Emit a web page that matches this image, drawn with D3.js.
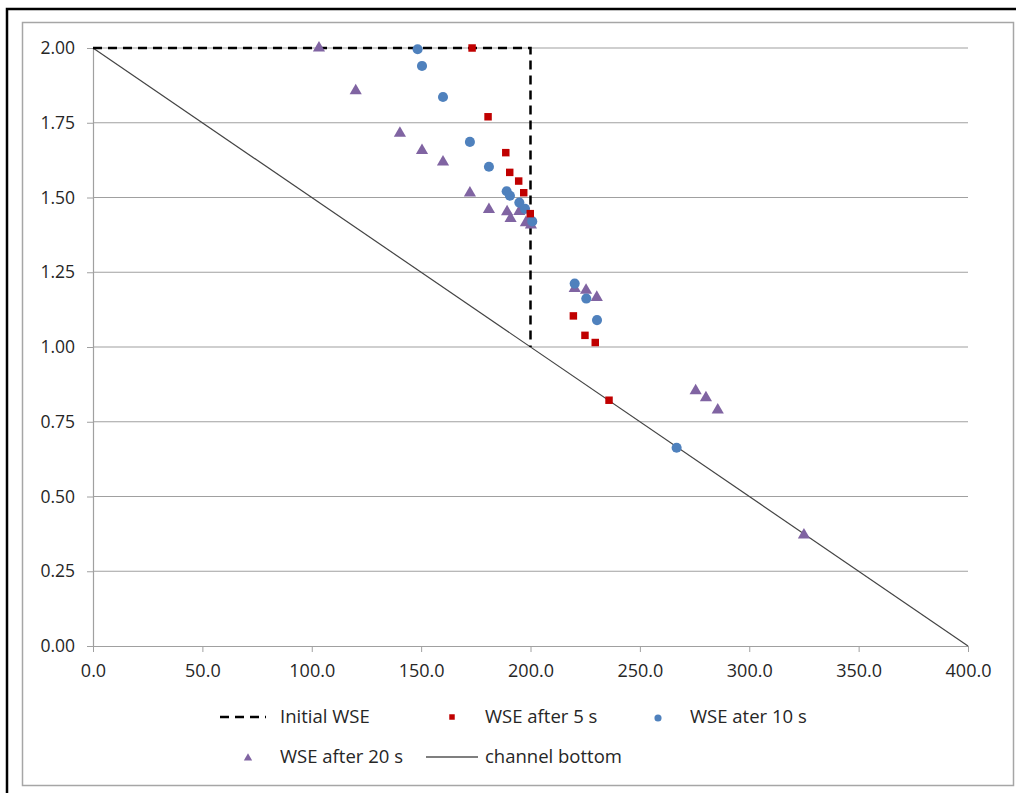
<!DOCTYPE html>
<html>
<head>
<meta charset="utf-8">
<script src="https://cdn.jsdelivr.net/npm/d3@7"></script>
<style>
  body { margin: 0; background: #fff; }
  svg text { font-family: "Open Sans", "Noto Sans", sans-serif; fill: #262626; }
</style>
</head>
<body>
<svg id="chart" width="1016" height="793"></svg>
<script>
"use strict";

//data ************************************************************
var xTicks = [0, 50, 100, 150, 200, 250, 300, 350, 400];
var yTicks = [0, 0.25, 0.5, 0.75, 1.0, 1.25, 1.5, 1.75, 2.0];

var initialWSE = [[0, 2.0], [200, 2.0], [200, 1.0]];
var channelBottom = [[0, 2.0], [400, 0.0]];

var wse5 = [
  [173.3, 2.00], [180.6, 1.77], [188.7, 1.65], [190.5, 1.584], [194.6, 1.555],
  [196.9, 1.516], [199.9, 1.446], [219.6, 1.104], [224.9, 1.039], [229.6, 1.015],
  [235.9, 0.822]
];
var wse10 = [
  [148.4, 1.996], [150.4, 1.94], [160.0, 1.836], [172.3, 1.686], [181.0, 1.603],
  [189.1, 1.521], [190.6, 1.506], [194.9, 1.483], [197.5, 1.462], [200.8, 1.42],
  [220.2, 1.212], [225.5, 1.162], [230.4, 1.09], [266.8, 0.663]
];
var wse20 = [
  [103.3, 2.00], [120.1, 1.857], [140.3, 1.715], [150.4, 1.657], [160.0, 1.619],
  [172.3, 1.515], [181.0, 1.46], [189.3, 1.452], [190.9, 1.43], [194.9, 1.453],
  [197.9, 1.416], [199.2, 1.421], [200.2, 1.408], [220.2, 1.196], [225.4, 1.19],
  [230.3, 1.166], [275.5, 0.854], [280.2, 0.83], [285.6, 0.789], [325.0, 0.371]
];

//colors ************************************************************
var red = "#C00000", blue = "#4F81BD", purple = "#8064A2";

//frame ************************************************************
var svg = d3.select("#chart");

svg.append("path")
  .attr("d", "M7,793 V9 H1016")
  .attr("fill", "none")
  .attr("stroke", "#000")
  .attr("stroke-width", 2.5);

svg.append("rect")
  .attr("x", 22.5).attr("y", 22.5)
  .attr("width", 991).attr("height", 763)
  .attr("fill", "#fff")
  .attr("stroke", "#a6a6a6")
  .attr("stroke-width", 1.5);

//scales ************************************************************
var x = d3.scaleLinear().domain([0, 400]).range([93, 968]);
var y = d3.scaleLinear().domain([0, 2]).range([646, 48]);

//gridlines
svg.append("g").selectAll("line")
  .data(yTicks.filter(function(d) { return d > 0; }))
  .enter().append("line")
  .attr("x1", x(0)).attr("x2", x(400))
  .attr("y1", function(d) { return y(d); })
  .attr("y2", function(d) { return y(d); })
  .attr("stroke", "#a0a0a0")
  .attr("stroke-width", 1.2);

//axes
var xAxis = d3.axisBottom(x).tickValues(xTicks).tickSize(6).tickSizeOuter(0)
  .tickFormat(d3.format(".1f"));
var gx = svg.append("g").attr("transform", "translate(0," + y(0) + ")").call(xAxis);
gx.select(".domain").attr("stroke", "#a0a0a0").attr("stroke-width", 1.2);
gx.selectAll(".tick line").attr("stroke", "#a0a0a0");
gx.selectAll(".tick text").attr("y", 18).attr("dy", "0.71em")
  .style("font-size", "18px").attr("fill", "#262626");

var yAxis = d3.axisLeft(y).tickValues(yTicks).tickSize(6).tickSizeOuter(0)
  .tickFormat(d3.format(".2f"));
var gy = svg.append("g").attr("transform", "translate(" + x(0) + ",0)").call(yAxis);
gy.select(".domain").attr("stroke", "#a0a0a0").attr("stroke-width", 1.2);
gy.selectAll(".tick line").attr("stroke", "#a0a0a0");
gy.selectAll(".tick text").attr("x", -18)
  .style("font-size", "17.5px").attr("fill", "#262626");

//lines ************************************************************
var line = d3.line()
  .x(function(d) { return x(d[0]); })
  .y(function(d) { return y(d[1]); });

svg.append("path")
  .datum(channelBottom)
  .attr("d", line)
  .attr("fill", "none")
  .attr("stroke", "#444")
  .attr("stroke-width", 1.2);

svg.append("path")
  .datum(initialWSE)
  .attr("d", line)
  .attr("fill", "none")
  .attr("stroke", "#000")
  .attr("stroke-width", 2.5)
  .attr("stroke-dasharray", "9,6");

//markers ************************************************************
var sym = {
  square: d3.symbol().type(d3.symbolSquare).size(56),
  circle: d3.symbol().type(d3.symbolCircle).size(80),
  triangle: d3.symbol().type(d3.symbolTriangle).size(64)
};

function drawPoints(data, shape, color) {
  svg.append("g").selectAll("path")
    .data(data)
    .enter().append("path")
    .attr("d", sym[shape])
    .attr("transform", function(d) {
      return "translate(" + x(d[0]) + "," + y(d[1]) + ")";
    })
    .attr("fill", color);
}

drawPoints(wse20, "triangle", purple);
drawPoints(wse10, "circle", blue);
drawPoints(wse5, "square", red);

//legend ************************************************************
var leg = svg.append("g").style("font-size", "18.5px");

leg.append("line")
  .attr("x1", 220).attr("x2", 266).attr("y1", 717).attr("y2", 717)
  .attr("stroke", "#000").attr("stroke-width", 2.5).attr("stroke-dasharray", "9,6");
leg.append("text").attr("x", 280).attr("y", 717).attr("dy", "0.35em").text("Initial WSE");

leg.append("path").attr("d", d3.symbol().type(d3.symbolSquare).size(30)())
  .attr("transform", "translate(452,717)").attr("fill", red);
leg.append("text").attr("x", 485).attr("y", 717).attr("dy", "0.35em").text("WSE after 5 s");

leg.append("path").attr("d", d3.symbol().type(d3.symbolCircle).size(40)())
  .attr("transform", "translate(658,718)").attr("fill", blue);
leg.append("text").attr("x", 690).attr("y", 717).attr("dy", "0.35em").text("WSE ater 10 s");

leg.append("path").attr("d", d3.symbol().type(d3.symbolTriangle).size(30)())
  .attr("transform", "translate(248,758)").attr("fill", purple);
leg.append("text").attr("x", 280).attr("y", 757).attr("dy", "0.35em").text("WSE after 20 s");

leg.append("line")
  .attr("x1", 426).attr("x2", 478).attr("y1", 757).attr("y2", 757)
  .attr("stroke", "#000").attr("stroke-width", 1.2);
leg.append("text").attr("x", 485).attr("y", 757).attr("dy", "0.35em").text("channel bottom");
</script>
</body>
</html>
